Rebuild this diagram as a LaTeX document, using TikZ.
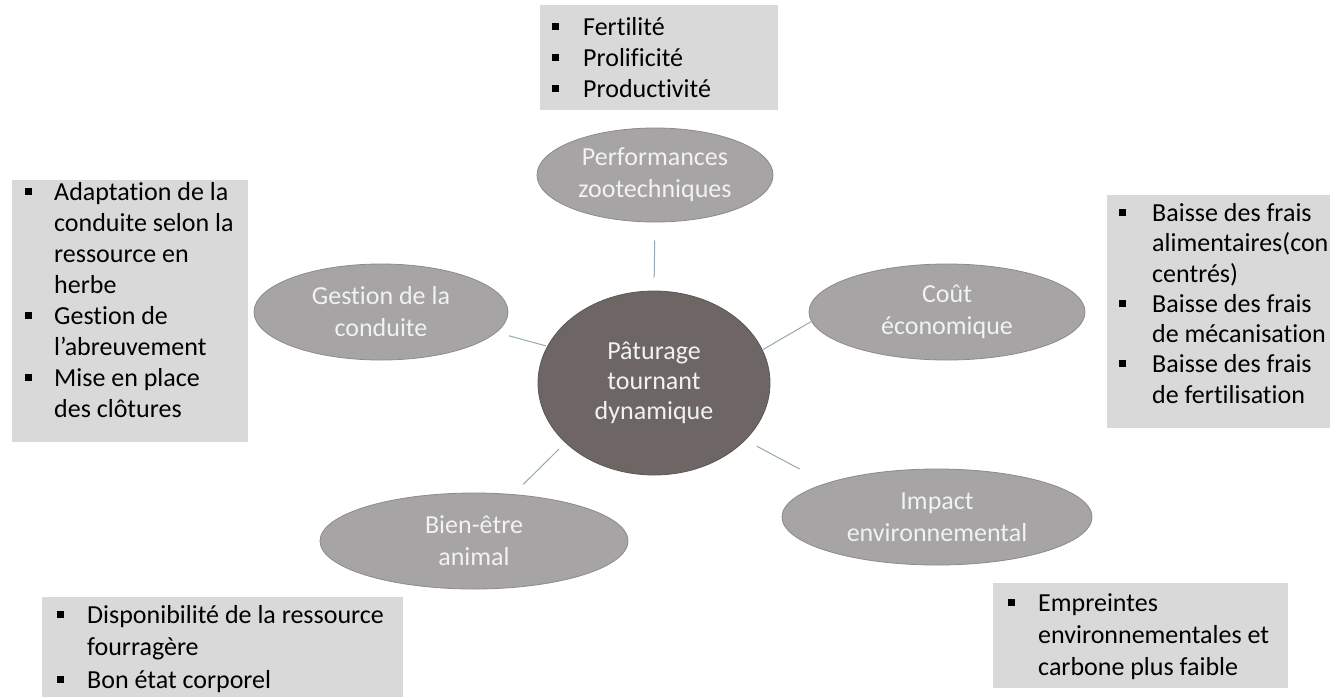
\documentclass[tikz,border=0pt]{standalone}
\usepackage{fontspec}
\setmainfont{Carlito}[Ligatures={NoCommon}]
\usetikzlibrary{shapes.geometric,calc}
\definecolor{boxgray}{RGB}{217,217,217}
\definecolor{ellgray}{RGB}{166,164,164}
\definecolor{ellline}{RGB}{140,138,138}
\definecolor{hubfill}{RGB}{110,101,101}
\definecolor{conn}{RGB}{150,168,178}
\definecolor{ltext}{RGB}{242,242,242}
\newlength\bw
\newcommand{\bi}{\makebox[\bw][l]{\rule[5.5pt]{7pt}{7pt}}}
\newcommand{\ci}{\hspace*{\bw}}
\tikzset{
  boxbg/.style={fill=boxgray, draw=none, inner sep=0pt, anchor=north west},
  btxt/.style={inner sep=0pt, anchor=north west, align=left, text=black},
  sat/.style={ellipse, fill=ellgray, draw=ellline, line width=0.8pt, inner sep=0pt,
     text=ltext, align=center, font=\fontsize{26}{32}\selectfont},
  hub/.style={ellipse, fill=hubfill, draw=hubfill!85!black, line width=0.8pt, inner sep=0pt,
     text=ltext, align=center, font=\fontsize{26}{30}\selectfont},
  link/.style={draw=conn, line width=1pt}
}
\begin{document}
\begin{tikzpicture}[x=1pt,y=-1pt]
\useasboundingbox (0,0) rectangle (1337,697);
\fill[white] (0,0) rectangle (1337,697);

% boxes
\node[boxbg, minimum width=238pt, minimum height=105pt] (b1) at (540,5) {};
\node[boxbg, minimum width=236pt, minimum height=262pt] (b2) at (12,180) {};
\node[boxbg, minimum width=223pt, minimum height=233pt] (b3) at (1107,195) {};
\node[boxbg, minimum width=361pt, minimum height=100pt] (b4) at (42,597) {};
\node[boxbg, minimum width=295pt, minimum height=105pt] (b5) at (993,583) {};

\node[btxt, font=\fontsize{26}{31}\selectfont\setlength\bw{31pt}] (t1) at (552,13.3)
 {\strut\bi Fertilité\\ \bi Prolificité\\ \bi Productivité};
\node[btxt, font=\fontsize{26}{31}\selectfont\setlength\bw{29pt}] (t2) at (25,179)
 {\strut\bi Adaptation de la\\ \ci conduite selon la\\ \ci ressource en\\ \ci herbe\\
  \bi Gestion de\\ \ci l’abreuvement\\ \bi Mise en place\\ \ci des clôtures};
\node[btxt, font=\fontsize{26}{30.3}\selectfont\setlength\bw{33pt}] (t3) at (1119,200)
 {\strut\bi Baisse des frais\\ \ci alimentaires(con\\ \ci centrés)\\
  \bi Baisse des frais\\ \ci de mécanisation\\ \bi Baisse des frais\\ \ci de fertilisation};
\node[btxt, font=\fontsize{26}{32.5}\selectfont\setlength\bw{30pt}] (t4) at (57,600.25)
 {\strut\bi Disponibilité de la ressource\\ \ci fourragère\\ \bi Bon état corporel};
\node[btxt, font=\fontsize{26}{32}\selectfont\setlength\bw{30pt}] (t5) at (1008,588.6)
 {\strut\bi Empreintes\\ \ci environnementales et\\ \ci carbone plus faible};

% ellipses
\node[hub, minimum width=232pt, minimum height=184pt] (hub) at (654,383) {Pâturage\\tournant\\dynamique};
\node[sat, minimum width=236pt, minimum height=94pt] (perf) at (655,175) {Performances\\zootechniques};
\node[sat, minimum width=254pt, minimum height=96pt] (gest) at (381,312) {Gestion de la\\conduite};
\node[sat, minimum width=276pt, minimum height=96pt] (cout) at (947,312) {Coût\\économique};
\node[sat, minimum width=310pt, minimum height=96pt] (imp) at (937,517) {Impact\\environnemental};
\node[sat, minimum width=308pt, minimum height=96pt] (bien) at (474,541) {Bien-être\\animal};

% connectors
\draw[link, shorten <=13pt, shorten >=18pt] (hub.north) -- (perf.south);
\draw[link, shorten <=1pt, shorten >=13pt] (hub.161.7) -- (gest.-10.3);
\draw[link] (hub.17.7) -- (cout.184.5);
\draw[link, shorten <=9pt, shorten >=14pt] (hub.214.1) -- (bien.50.4);
\draw[link, shorten <=13pt, shorten >=30pt] (hub.-32.8) -- (imp.163.3);
\end{tikzpicture}
\end{document}
